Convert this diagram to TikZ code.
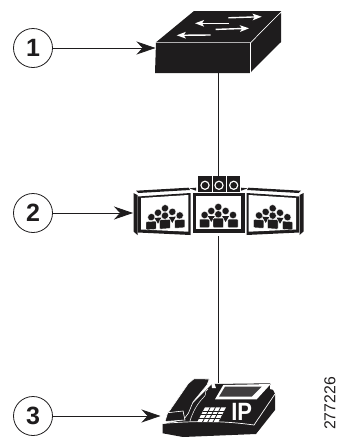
\documentclass[tikz,border=0pt]{standalone}
\usepackage{fontspec}
\setmainfont{Liberation Sans}
\usetikzlibrary{arrows.meta,calc}
\definecolor{ink}{HTML}{1E1C1D}
\tikzset{
  callout/.style={circle,draw=ink,line width=0.8pt,fill=white,minimum size=39pt,inner sep=0pt,font=\fontsize{25}{25}\bfseries\selectfont,text=ink},
  pointer/.style={draw=ink,line width=0.8pt,-{Stealth[length=19pt,width=13pt,inset=6pt]}},
  link/.style={draw=ink,line width=0.8pt},
  holder/.style={rectangle,inner sep=0pt,outer sep=0pt,draw=none},
  white hair/.style={draw=white,line width=0.7pt},
  flowarrow/.style={draw=white,line width=1.4pt,-{Stealth[length=9pt,width=6.5pt,inset=2pt]}},
  person/.style={fill=ink,draw=white,line width=0.4pt,rounded corners=0.8pt},
}
\newcommand{\crowd}{%
  \foreach \hx/\hy in {-13.7/3,-7/-1,0/-5,7.3/-1,14.7/3,0/2.3}
    \fill[ink,draw=white,line width=0.3pt] (\hx,\hy) circle (3.6pt);
  \fill[ink] (-10.5,4) -- (-3.5,4) -- (-7,10) -- cycle;
  \fill[ink] (10.8,4) -- (3.8,4) -- (7.3,10) -- cycle;
  \path[person] (-19,15.5) rectangle (-8.8,7.2);
  \path[person] (9.6,15.5) rectangle (19.8,7.2);
  \path[person] (-5.3,15.5) rectangle (5.3,6.2);
}
\begin{document}
\begin{tikzpicture}[x=1pt,y=-1pt]
\useasboundingbox (0,0) rectangle (337,437);
% ---- holders for the three devices
\node[holder,minimum width=126pt,minimum height=62pt] (sw) at (218.5,42) {};
\node[holder,minimum width=171pt,minimum height=60pt] (mcu) at (218.5,206) {};
\node[holder,minimum width=112pt,minimum height=54pt] (ph) at (218.5,410) {};
% ---- callouts
\node[callout] (c1) at (33,48) {1};
\node[callout] (c2) at (33,213) {2};
\node[callout] (c3) at (33,416) {3};
% ---- connectors
\path[link] (sw.south) -- (mcu.north);
\path[link] (mcu.south) -- (ph.north);
\path[pointer] (c1.east) -- (c1.east -| sw.west);
\path[pointer] (c2.east) -- (c2.east -| mcu.west);
\path[pointer] (c3.east) -- ($(c3.east -| ph.west)+(-2,0)$);
% ---- switch
\fill[ink] (156,42.3) -- (194,11) -- (281,11) -- (281,12) -- (250.7,73) -- (155,73) -- cycle;
\draw[white hair] (155.5,42.6) -- (250.7,42.6) -- (281.5,11.5);
\draw[white hair] (250.7,42.6) -- (250.7,73.5);
\fill[ink] (251.3,43.3) -- (281,13) -- (281,42) -- (251.3,71.5) -- cycle;
\path[flowarrow] (228.3,17.8) -- (261.7,16.7);
\path[flowarrow] (229,23.3) -- (195,23.3);
\path[flowarrow] (215.7,29.4) -- (249,28.3);
\path[flowarrow] (210.7,35) -- (176.7,35.3);
% ---- speakers
\fill[ink] (198,176) rectangle (240,191.7);
\draw[white,line width=0.6pt] (212,176) -- (212,191.7) (226,176) -- (226,191.7);
\foreach \sx in {205,219,233.7}{
  \fill[white] (\sx,185.3) circle (4.7pt);
  \fill[ink] (\sx,185.3) circle (3.3pt);
}
% ---- centre screen
\fill[ink] (192.7,192.7) rectangle (244.7,233.3);
\fill[white] (196,195.7) rectangle (240.7,229);
\begin{scope}[shift={(218.3,212)}]\crowd\end{scope}
% ---- left and right screens
\foreach \m/\o in {1/0,-1/437}{
  \begin{scope}[shift={(\o,0)},x=\m pt]
    \fill[ink] (133.5,193) -- (137.5,195) -- (137.5,235) -- (133.5,231.5) -- cycle;
    \fill[ink] (137.8,196.5) -- (190.5,193) -- (190.5,235) -- (137.8,232.5) -- cycle;
    \fill[white] (141,198) -- (188.3,195) -- (188.3,231.7) -- (141,229.5) -- cycle;
    \fill[ink] (136,190.7) -- (188.5,187.7) -- (190,190) -- (138.3,193) -- cycle;
    \fill[ink] (189.3,188.3) -- (196,187.7) -- (196,190.7) -- cycle;
  \end{scope}
}
\begin{scope}[cm={1,0.06,0,1,(165,213.3)}]\crowd\end{scope}
\begin{scope}[cm={1,-0.06,0,1,(272.7,213.3)}]\crowd\end{scope}
% ---- phone body
\fill[ink] (162.7,424) -- (184,420) -- (186,410) -- (212,384) -- (270,383.3) -- (275,394) -- (275,410) -- (256,434) -- (183,437) -- (162.7,433.3) -- cycle;
\draw[white hair] (163,423.4) .. controls (200,420.5) and (225,421) .. (254,425) -- (275,394);
% ---- display
\fill[white] (215,399.3) -- (223.3,385) -- (270.7,384) -- (256.7,399.3) -- cycle;
\fill[ink!85] (219,396.7) -- (225,386.7) -- (261.7,386.7) -- (251.7,396.7) -- cycle;
% ---- cradle ticks
\fill[white] (211,381) -- (214.5,383.5) -- (216,388) -- (212,388) -- cycle;
\fill[white] (270,385) -- (273,383) -- (274,390) -- (270,389) -- cycle;
% ---- keypad
\fill[white] (197.3,422) -- (205,407.3) -- (226,407.3) -- (218.3,422) -- cycle;
\foreach \t in {0.25,0.5,0.75}
  \draw[ink,line width=0.8pt] ($(197.3,422)!\t!(218.3,422)$) -- ($(205,407.3)!\t!(226,407.3)$);
\foreach \t in {0.25,0.5,0.75}
  \draw[ink,line width=0.8pt] ($(197.3,422)!\t!(205,407.3)$) -- ($(218.3,422)!\t!(226,407.3)$);
% ---- handset
\fill[ink,draw=white,line width=0.6pt] (188.3,383.5) -- (194,378.8) -- (209.3,379) -- (207,385) -- (193,402) -- (188.5,413) -- (184,419) -- (183,411.5) -- (168,413) -- cycle;
\fill[ink,draw=white,line width=0.6pt] (167.7,412.7) -- (183,411) -- (185,420) -- (165,421.5) -- cycle;
\draw[white,line width=0.5pt] (208,389) .. controls (203,392) and (208,394) .. (203,398) .. controls (198,403) and (193,411) .. (190,421);
% ---- IP
\node[holder,text=white,font=\fontsize{25}{25}\bfseries\selectfont,xscale=0.88] (iplabel) at (241.7,412) {IP};
% ---- figure number
\node[holder,rotate=90,text=ink,font=\fontsize{15.8}{16}\selectfont] (fignum) at (330,403.5) {277226};
\end{tikzpicture}
\end{document}
